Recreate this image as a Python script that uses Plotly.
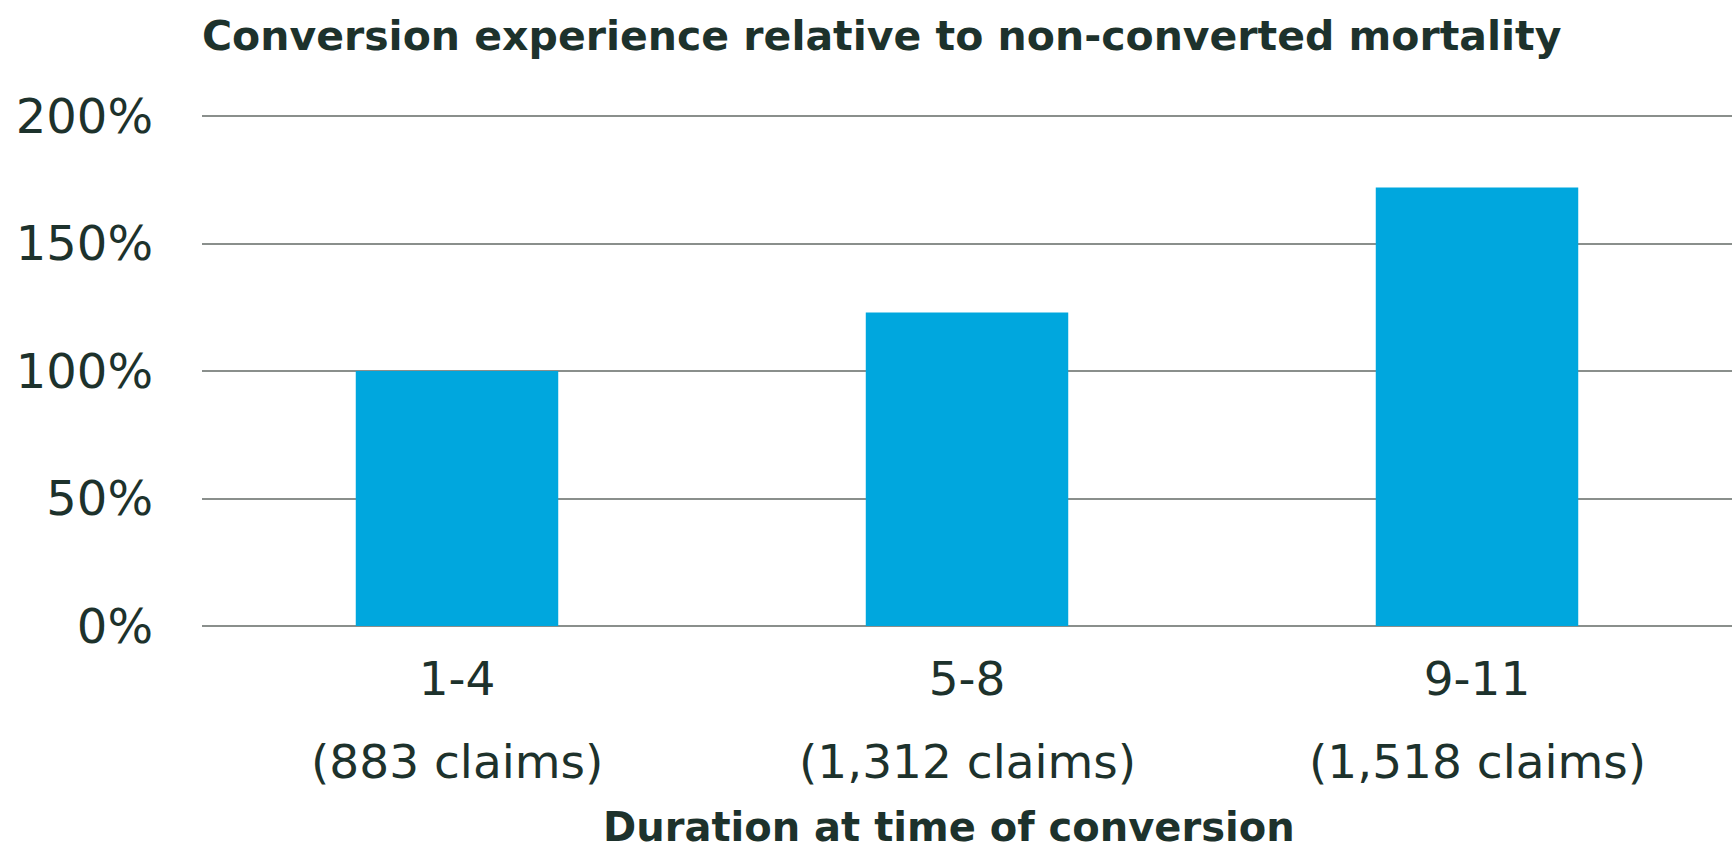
import plotly.graph_objects as go

# Duration bands at time of conversion and their claim counts
durations = ["1-4", "5-8", "9-11"]
claims = ["(883 claims)", "(1,312 claims)", "(1,518 claims)"]
# Mortality relative to non-converted policies (%)
relative_mortality = [100, 123, 172]
y_ticks = [0, 50, 100, 150, 200]
y_tick_text = ["0%", "50%", "100%", "150%", "200%"]

TEXT = "#1d322c"
GRID = "#8a8f8c"
BAR = "#00a7de"

fig = go.Figure(
    go.Bar(
        x=durations,
        y=relative_mortality,
        marker=dict(color=BAR, line=dict(width=0)),
        hoverinfo="skip",
    )
)

# Claim counts on a second line beneath each duration label
for d, c in zip(durations, claims):
    fig.add_annotation(
        x=d, xref="x", y=-0.263, yref="paper",
        text=c, showarrow=False, yanchor="middle", xanchor="center",
        font=dict(family="DejaVu Sans", size=47, color=TEXT),
    )

fig.add_annotation(
    x=0.488, xref="paper", y=-0.39, yref="paper",
    text="<b>Duration at time of conversion</b>", showarrow=False,
    yanchor="middle", xanchor="center",
    font=dict(family="DejaVu Sans", size=40, color=TEXT),
)

fig.update_layout(
    width=1732, height=852,
    margin=dict(l=202, r=0, t=111, b=226),
    paper_bgcolor="white", plot_bgcolor="white",
    bargap=0.603,
    showlegend=False,
    title=dict(
        text="<b>Conversion experience relative to non-converted mortality</b>",
        x=202 / 1732, xref="container", xanchor="left",
        y=1 - 36 / 852, yref="container", yanchor="middle",
        font=dict(family="DejaVu Sans", size=41, color=TEXT),
    ),
    xaxis=dict(
        showgrid=False, showline=False, zeroline=False,
        ticks="", tickfont=dict(family="DejaVu Sans", size=47, color=TEXT),
        ticklabelstandoff=21,
    ),
    yaxis=dict(
        range=[0, 202], tickvals=y_ticks, ticktext=y_tick_text,
        showgrid=True, gridcolor=GRID, gridwidth=2,
        zeroline=True, zerolinecolor=GRID, zerolinewidth=2,
        showline=False, ticks="",
        tickfont=dict(family="DejaVu Sans", size=48, color=TEXT),
        ticklabelstandoff=48,
    ),
)

fig.write_html("out.html")
